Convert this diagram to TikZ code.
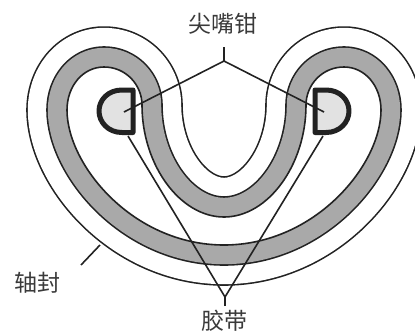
\documentclass[tikz,border=0pt]{standalone}
\usepackage{fontspec}
\newfontfamily\cjk{Noto Sans CJK SC}
\definecolor{band}{HTML}{A9A9A9}
\definecolor{jaw}{HTML}{E2E2E2}
\definecolor{ink}{HTML}{222222}
\definecolor{txt}{HTML}{3A3A3A}
\tikzset{
  label text/.style={font=\cjk\fontsize{23}{23}\selectfont, text=txt, inner sep=0pt},
  leader/.style={draw=ink, line width=1.6pt},
  jawshape/.style={draw=ink, fill=jaw, line width=5pt, miter limit=4},
}
\def\kidney{(104,67) .. controls (83,67) and (67,86) .. (67,110)
  .. controls (67,165) and (133,245) .. (224,245)
  .. controls (315,245) and (381,165) .. (381,110)
  .. controls (381,86) and (365,67) .. (344,67)
  .. controls (322,67) and (306,85) .. (306,105)
  .. controls (306,165) and (268,217) .. (224,217)
  .. controls (180,217) and (142,165) .. (142,105)
  .. controls (142,85) and (126,67) .. (104,67) -- cycle}
\begin{document}
\begin{tikzpicture}[x=1pt,y=-1pt,line join=round]
\useasboundingbox (0,0) rectangle (415,335);
\clip (0,0) rectangle (415,335);
% nested seal outlines, parallel to the inner loop
\draw[ink, line width=81.6pt] \kidney;
\draw[white, line width=78.4pt] \kidney;
\draw[ink, line width=41.6pt] \kidney;
\draw[band, line width=38.4pt] \kidney;
\draw[ink, fill=white, line width=1.6pt] \kidney;
% pliers jaws
\draw[jawshape] (133,90) -- (133,132.5) -- (122,132.5) .. controls (108,132.5) and (99,122) .. (99,111)
  .. controls (99,100) and (108,90) .. (122,90) -- cycle;
\draw[jawshape] (315,90) -- (315,132.5) -- (326,132.5) .. controls (340,132.5) and (349,122) .. (349,111)
  .. controls (349,100) and (340,90) .. (326,90) -- cycle;
% labels
\node[label text] (plier) at (222.5,24) {尖嘴钳};
\node[label text] (tape) at (224.5,321) {胶带};
\node[label text] (seal) at (37.5,283) {轴封};
% connector points
\coordinate (ptop) at (224,47);
\coordinate (jtop) at (224,61);
\coordinate (pl) at (124,112);
\coordinate (pr) at (324,112);
\coordinate (pbot) at (225,306);
\coordinate (jbot) at (225,297);
\coordinate (tl) at (128,136);
\coordinate (tr) at (323,136);
\coordinate (s1) at (81,265);
\coordinate (s2) at (100,245);
\draw[leader] (ptop) -- (jtop);
\draw[leader] (pl) -- (jtop) -- (pr);
\draw[leader] (pbot) -- (jbot);
\draw[leader] (tl) -- (jbot) -- (tr);
\draw[leader] (s1) -- (s2);
\end{tikzpicture}
\end{document}
